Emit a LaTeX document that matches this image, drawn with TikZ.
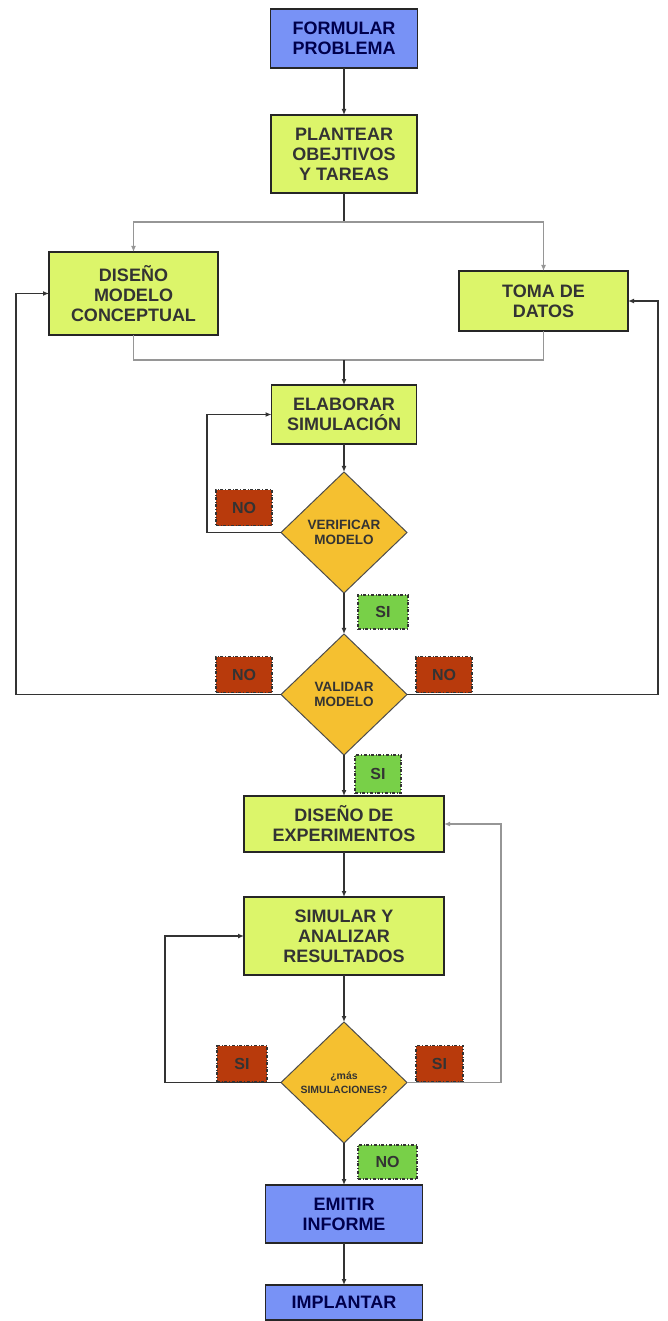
\documentclass[tikz,border=0pt]{standalone}
\usepackage{fontspec}
\setmainfont{Liberation Sans}
\usetikzlibrary{arrows.meta,positioning,shapes.geometric}
\definecolor{FBlue}{RGB}{120,146,246}
\definecolor{FLime}{RGB}{220,245,106}
\definecolor{FGold}{RGB}{245,192,48}
\definecolor{FRed}{RGB}{184,58,12}
\definecolor{FGreen}{RGB}{120,208,72}
\definecolor{FGray}{RGB}{150,150,150}
\tikzset{
	proc/.style={draw=black!85, line width=1.6pt, outer sep=0pt, fill=FLime, align=center, text=black!80,
		font=\bfseries\fontsize{18}{20}\selectfont},
	term/.style={proc, fill=FBlue, text=black!70!blue},
	dec/.style={diamond, draw=black!70, line width=1pt, outer sep=0pt, fill=FGold, align=center, inner sep=0pt,
		minimum width=126pt, minimum height=121pt, text=black!80, font=\bfseries\fontsize{13.5}{15}\selectfont},
	lab/.style={draw=black!80, dash dot, line width=1.4pt, outer sep=0pt, inner sep=0pt, text=black!80,
		font=\bfseries\fontsize{16}{16}\selectfont},
	lno/.style={lab, fill=FRed, minimum width=56pt, minimum height=36pt},
	lsi/.style={lab, fill=FGreen, minimum width=50pt, minimum height=34pt},
	arr/.style={-{Latex[length=6pt,width=5pt]}, line width=1.5pt, draw=black!80},
	garr/.style={arr, draw=FGray},
	gline/.style={line width=1.5pt, draw=FGray}
}
\begin{document}
\begin{tikzpicture}[x=1pt, y=-1pt]
	\useasboundingbox (0,0) rectangle (668,1321);
	\node[term, minimum width=147pt, minimum height=59pt] (fp) at (344,38.5) {FORMULAR\\PROBLEMA};
	\node[proc, minimum width=146pt, minimum height=78pt, below=47pt of fp] (pl) {PLANTEAR\\OBEJTIVOS\\Y TAREAS};
	\node[proc, minimum width=169pt, minimum height=83pt, below left=59pt and 53pt of pl] (dm) {DISEÑO\\MODELO\\CONCEPTUAL};
	\node[proc, minimum width=169pt, minimum height=60pt, below right=78pt and 42pt of pl] (td) {TOMA DE\\DATOS};
	\node[proc, minimum width=145pt, minimum height=59pt, below=192pt of pl] (el) {ELABORAR\\SIMULACIÓN};
	\node[dec, below=28pt of el] (ver) {VERIFICAR\\MODELO};
	\node[dec, below=41pt of ver] (val) {VALIDAR\\MODELO};
	\node[proc, minimum width=200pt, minimum height=56pt, below=41pt of val] (de) {DISEÑO DE\\EXPERIMENTOS};
	\node[proc, minimum width=200pt, minimum height=78pt, below=45pt of de] (sa) {SIMULAR Y\\ANALIZAR\\RESULTADOS};
	\node[dec, below=47pt of sa, font=\bfseries\fontsize{10.5}{14}\selectfont] (mas) {¿más\\SIMULACIONES?};
	\node[term, minimum width=157pt, minimum height=58pt, below=42pt of mas] (ei) {EMITIR\\INFORME};
	\node[term, minimum width=157pt, minimum height=35pt, below=42pt of ei] (im) {IMPLANTAR};
	\node[lno, above left=7pt and 9pt of ver.west] (n1) {NO};
	\node[lsi, below right=2pt and 14pt of ver.south] (s1) {SI};
	\node[lno, above left=2pt and 9pt of val.west] (n2) {NO};
	\node[lno, above right=2pt and 9pt of val.east] (n3) {NO};
	\node[lsi, minimum width=46pt, minimum height=38pt, below right=0pt and 11pt of val.south] (s2) {SI};
	\node[lno, minimum width=50pt, above left=1pt and 14pt of mas.west] (s3) {SI};
	\node[lno, minimum width=47pt, above right=1pt and 9pt of mas.east] (s4) {SI};
	\node[lsi, minimum width=59pt, below right=2pt and 14pt of mas.south] (n4) {NO};
	\coordinate[below=29pt of pl.south] (br);
	\coordinate[above=25pt of el.north] (jn);
	\draw[arr] (fp) -- (pl);
	\draw[line width=1.5pt, draw=black!80] (pl) -- (br);
	\draw[garr] (br) -| (dm);
	\draw[garr] (br) -| (td);
	\draw[gline] (dm) |- (jn) -| (td);
	\draw[arr] (jn) -- (el);
	\draw[arr] (el) -- (ver);
	\draw[arr] (ver.west) -- ++(-74,0) |- (el.west);
	\draw[arr] (ver) -- (val);
	\draw[arr] (val.west) -- ++(-265,0) |- (dm.west);
	\draw[arr] (val.east) -- ++(251,0) |- (td.east);
	\draw[arr] (val) -- (de);
	\draw[arr] (de) -- (sa);
	\draw[arr] (sa) -- (mas);
	\draw[arr] (mas.west) -- ++(-116,0) |- (sa.west);
	\draw[garr] (mas.east) -- ++(94,0) |- (de.east);
	\draw[arr] (mas) -- (ei);
	\draw[arr] (ei) -- (im);
\end{tikzpicture}
\end{document}
